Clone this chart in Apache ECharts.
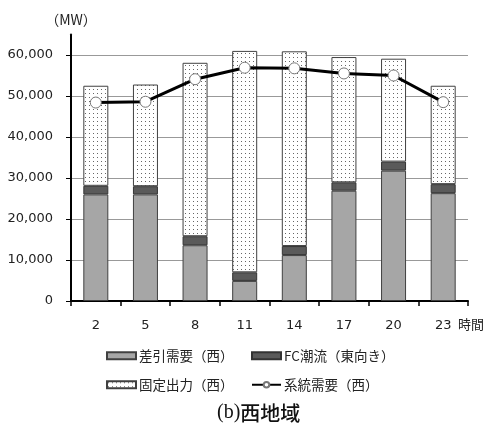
<!DOCTYPE html>
<html lang="ja">
<head>
<meta charset="UTF-8">
<title>西地域</title>
<script src="https://cdn.jsdelivr.net/npm/echarts@6/dist/echarts.min.js"></script>
<style>
  html, body { margin: 0; padding: 0; background: #fff; }
  #main { width: 487px; height: 432px; }
</style>
</head>
<body>
<div id="main"></div>
<script>
// 時間帯
var hours = ['2', '5', '8', '11', '14', '17', '20', '23'];
// 差引需要（西）
var netDemand = [26000, 26000, 13600, 4900, 11200, 26900, 31800, 26300];
// FC潮流（東向き）
var fcFlow = [2100, 2000, 2200, 2100, 2200, 2050, 2200, 2200];
// 固定出力（西）
var fixedOut = [24400, 24800, 42300, 54000, 47500, 30550, 25100, 24000];
// 系統需要（西）
var sysDemand = [48400, 48600, 54100, 56900, 56750, 55500, 55000, 48500];

// 点々の模様
var dots = document.createElement('canvas');
dots.width = 4; dots.height = 4;
var ctx = dots.getContext('2d');
ctx.fillStyle = '#ffffff';
ctx.fillRect(0, 0, 4, 4);
ctx.fillStyle = '#666666';
ctx.fillRect(1, 1, 1, 1);

var numFont = 'DejaVu Sans';
var jpFont = 'Noto Sans CJK JP';

// 凡例は1項目ずつ置いて列をそろえる
function legendAt(name, left, top, icon) {
    var l = {
        left: left, top: top,
        itemWidth: 29, itemHeight: 7, itemGap: 0,
        textStyle: { fontSize: 13.5, color: '#222', fontFamily: jpFont, padding: [0, 0, 0, -2] },
        data: [name]
    };
    if (icon) l.icon = icon;
    return l;
}

var myChart = echarts.init(document.getElementById('main'));
myChart.setOption({
    animation: false,
    textStyle: { fontFamily: jpFont },
    grid: { left: 71, right: 19, top: 34.5, bottom: 131 },
    title: {
        text: '{a|(b)}{b|西地域}',
        left: 212,
        top: 398,
        textStyle: {
            rich: {
                a: { fontFamily: 'Liberation Serif', fontSize: 20, fontWeight: 'normal', color: '#111' },
                b: { fontFamily: jpFont, fontSize: 20, fontWeight: 500, color: '#111' }
            }
        }
    },
    legend: [
        legendAt('差引需要（西）', 101, 344, 'rect'),
        legendAt('FC潮流（東向き）', 246, 344, 'rect'),
        legendAt('固定出力（西）', 101, 373, 'rect'),
        legendAt('系統需要（西）', 246, 373)
    ],
    xAxis: {
        type: 'category',
        data: hours,
        name: '時間',
        nameLocation: 'end',
        nameGap: -10,
        nameTextStyle: { fontSize: 13, color: '#222', verticalAlign: 'top', padding: [17, 0, 0, 0] },
        axisLine: { lineStyle: { color: '#000', width: 2 } },
        axisTick: { show: true, alignWithLabel: false, length: 5, lineStyle: { color: '#000', width: 1.5 } },
        axisLabel: { fontFamily: numFont, fontSize: 13, color: '#222', margin: 18 }
    },
    yAxis: {
        type: 'value',
        min: 0, max: 65000, interval: 10000,
        name: '（MW）',
        nameLocation: 'end',
        nameGap: 8,
        nameTextStyle: { fontSize: 14, color: '#222', align: 'center' },
        axisLine: { show: true, lineStyle: { color: '#000', width: 2 } },
        axisTick: { show: true, length: 5, lineStyle: { color: '#000' } },
        axisLabel: {
            fontFamily: numFont, fontSize: 13, color: '#222', margin: 18,
            showMaxLabel: false,
            formatter: function (v) { return v.toLocaleString('en-US'); }
        },
        splitLine: { show: true, showMaxLine: false, lineStyle: { color: '#999', width: 1 } }
    },
    series: [{
        name: '差引需要（西）',
        type: 'bar',
        stack: 'w',
        barWidth: 25,
        data: netDemand,
        itemStyle: { color: '#a6a6a6', borderColor: '#404040', borderWidth: 1 }
    }, {
        name: 'FC潮流（東向き）',
        type: 'bar',
        stack: 'w',
        data: fcFlow,
        itemStyle: { color: '#5a5a5a', borderColor: '#333', borderWidth: 1 }
    }, {
        name: '固定出力（西）',
        type: 'bar',
        stack: 'w',
        data: fixedOut,
        itemStyle: { color: { image: dots, repeat: 'repeat' }, borderColor: '#404040', borderWidth: 1 }
    }, {
        name: '系統需要（西）',
        type: 'line',
        data: sysDemand,
        symbol: 'circle',
        symbolSize: 11,
        lineStyle: { color: '#000', width: 3 },
        itemStyle: { color: '#fff', borderColor: '#777', borderWidth: 1 },
        z: 5
    }]
});
</script>
</body>
</html>
